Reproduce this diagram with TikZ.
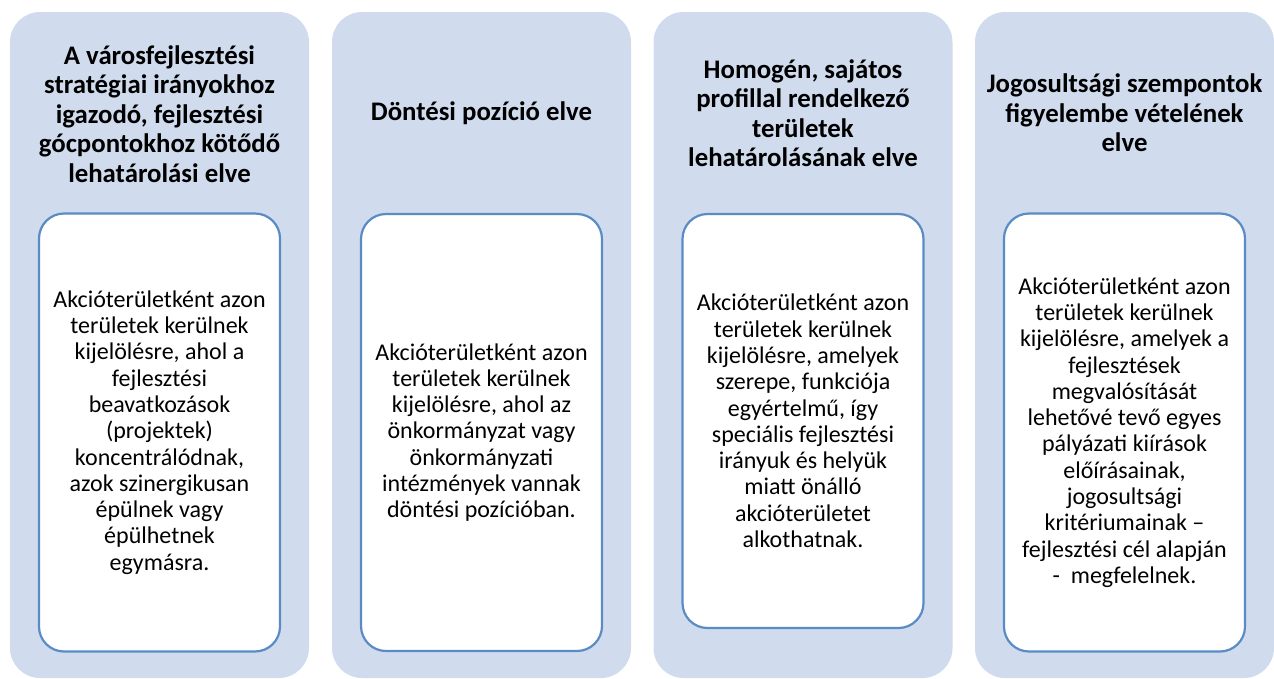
\documentclass[tikz,border=0pt]{standalone}
\usepackage{fontspec}
\setmainfont{Carlito}
\definecolor{outerfill}{HTML}{D0DCEE}
\definecolor{innerline}{HTML}{5B8BC5}
\tikzset{
  outerbox/.style={rectangle, rounded corners=30pt, fill=outerfill, draw=none,
    minimum width=299pt, minimum height=666pt, inner sep=0pt},
  headtext/.style={align=center, inner sep=0pt, font=\fontsize{26.8}{29.5}\selectfont\bfseries},
  innerbox/.style={rectangle, rounded corners=25pt, fill=white, draw=innerline, line width=2.2pt,
    minimum width=241pt, inner sep=0pt, align=center, font=\fontsize{24}{26.3}\selectfont}
}
\begin{document}
\begin{tikzpicture}[x=1pt,y=-1pt]
\useasboundingbox (0,0) rectangle (1274,678);
% columns
\node[outerbox] (o1) at (159.5,345) {};
\node[outerbox] (o2) at (481.5,345) {};
\node[outerbox] (o3) at (803,345) {};
\node[outerbox] (o4) at (1124.5,345) {};
% headings
\node[headtext] (h1) at (159.5,114) {A városfejlesztési\\stratégiai irányokhoz\\igazodó, fejlesztési\\gócpontokhoz kötődő\\lehatárolási elve};
\node[headtext] (h2) at (481.5,113) {Döntési pozíció elve};
\node[headtext] (h3) at (803,113) {Homogén, sajátos\\profillal rendelkező\\területek\\lehatárolásának elve};
\node[headtext] (h4) at (1124.5,113) {Jogosultsági szempontok\\figyelembe vételének\\elve};
% inner boxes
\node[innerbox, minimum height=438pt] (b1) at (159.5,432.5) {Akcióterületként azon\\területek kerülnek\\kijelölésre, ahol a\\fejlesztési\\beavatkozások\\(projektek)\\koncentrálódnak,\\azok szinergikusan\\épülnek vagy\\épülhetnek\\egymásra.};
\node[innerbox, minimum height=437pt] (b2) at (481.5,432.5) {Akcióterületként azon\\területek kerülnek\\kijelölésre, ahol az\\önkormányzat vagy\\önkormányzati\\intézmények vannak\\döntési pozícióban.};
\node[innerbox, minimum height=414pt] (b3) at (803,421) {Akcióterületként azon\\területek kerülnek\\kijelölésre, amelyek\\szerepe, funkciója\\egyértelmű, így\\speciális fejlesztési\\irányuk és helyük\\miatt önálló\\akcióterületet\\alkothatnak.};
\node[innerbox, minimum height=438pt] (b4) at (1124.5,432.5) {Akcióterületként azon\\területek kerülnek\\kijelölésre, amelyek a\\fejlesztések\\megvalósítását\\lehetővé tevő egyes\\pályázati kiírások\\előírásainak,\\jogosultsági\\kritériumainak –\\fejlesztési cél alapján\\-\ \ megfelelnek.};
\end{tikzpicture}
\end{document}
